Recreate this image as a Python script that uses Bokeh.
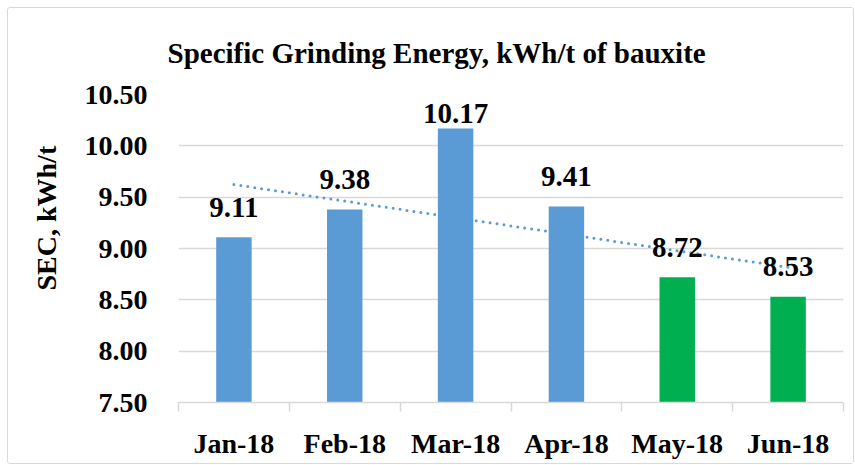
import numpy as np
from bokeh.plotting import figure
from bokeh.models import Range1d, FixedTicker, ColumnDataSource, NumeralTickFormatter, Title
from bokeh.core.properties import value
from bokeh.embed import file_html
from bokeh.resources import INLINE

months = ["Jan-18", "Feb-18", "Mar-18", "Apr-18", "May-18", "Jun-18"]
sec = [9.11, 9.38, 10.17, 9.41, 8.72, 8.53]
bar_colors = ["#5B9BD5", "#5B9BD5", "#5B9BD5", "#5B9BD5", "#00B050", "#00B050"]
y_ticks = [7.5, 8.0, 8.5, 9.0, 9.5, 10.0, 10.5]
title_text = "Specific Grinding Energy, kWh/t of bauxite"
y_label = "SEC, kWh/t"

FONT = "Liberation Serif"

idx = np.arange(len(months))
slope, intercept = np.polyfit(idx, sec, 1)
trend = slope * idx + intercept

# labels are kept inside the plot area (like Excel does for the tallest bar)
label_y = [min(v, y_ticks[-1] - 0.48) for v in sec]

src = ColumnDataSource(dict(
    x=idx, top=sec, color=bar_colors, ly=label_y,
    label=[f"{v:.2f}" for v in sec],
))

p = figure(width=847, height=457, output_backend="svg", toolbar_location=None,
           x_range=Range1d(-0.5, len(months) - 0.5),
           y_range=Range1d(y_ticks[0], y_ticks[-1]),
           min_border_left=168, min_border_right=12,
           min_border_top=86, min_border_bottom=63)
p.margin = (7, 0, 0, 7)
p.outline_line_color = None
p.background_fill_color = "white"
p.border_fill_color = "white"
p.styles = {"border": "1.5px solid #d9d9d9", "border-radius": "3px", "box-sizing": "border-box"}

p.vbar(x="x", top="top", bottom=y_ticks[0], width=0.32, fill_color="color",
       line_color=None, source=src)

p.line(idx, trend, line_color="#5B9BD5", line_width=3, line_dash="0 7",
       line_cap="round")

p.text(x="x", y="ly", text="label", source=src, text_align="center",
       text_baseline="alphabetic", y_offset=-30,
       text_font=value(FONT), text_font_style="bold", text_font_size="29px",
       text_color="#000000")

# x axis
xa = p.xaxis[0]
xa.ticker = FixedTicker(ticks=list(idx), minor_ticks=list(np.arange(-0.5, len(months), 1.0)))
xa.major_label_overrides = {int(i): m for i, m in zip(idx, months)}
xa.major_tick_line_color = None
xa.major_tick_out = 0
xa.major_tick_in = 0
xa.minor_tick_line_color = "#D9D9D9"
xa.minor_tick_line_width = 1.5
xa.minor_tick_out = 9
xa.minor_tick_in = 0
xa.axis_line_color = "#D9D9D9"
xa.axis_line_width = 1.5
xa.major_label_text_font = FONT
xa.major_label_text_font_style = "bold"
xa.major_label_text_font_size = "28px"
xa.major_label_text_color = "#000000"
xa.major_label_standoff = 16

# y axis
ya = p.yaxis[0]
ya.ticker = FixedTicker(ticks=y_ticks)
ya.formatter = NumeralTickFormatter(format="0.00")
ya.axis_line_color = None
ya.major_tick_line_color = None
ya.minor_tick_line_color = None
ya.major_label_text_font = FONT
ya.major_label_text_font_style = "bold"
ya.major_label_text_font_size = "28px"
ya.major_label_text_color = "#000000"
ya.major_label_standoff = 25

p.xgrid.grid_line_color = None
p.ygrid.grid_line_color = "#D9D9D9"
p.ygrid.grid_line_width = 1.5

p.add_layout(Title(text=title_text, align="left", offset=-11, standoff=51,
                   text_font=FONT, text_font_style="bold", text_font_size="29px",
                   text_color="#000000"), "above")
p.add_layout(Title(text=y_label, align="left", offset=112, standoff=40,
                   text_font=FONT, text_font_style="bold", text_font_size="28px",
                   text_color="#000000"), "left")

open("out.html", "w").write(file_html(p, INLINE))
